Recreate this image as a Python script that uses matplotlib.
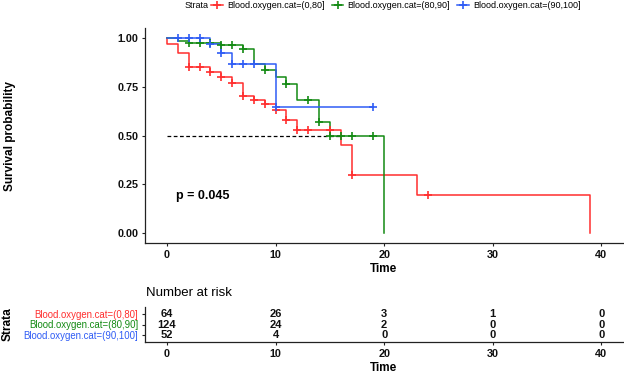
import numpy as np
import matplotlib
matplotlib.use("Agg")
import matplotlib.pyplot as plt
from matplotlib.lines import Line2D

plt.rcParams['font.family'] = ['Liberation Sans', 'DejaVu Sans']

# ---------------- data ----------------
strata = ["Blood.oxygen.cat=(0,80]", "Blood.oxygen.cat=(80,90]", "Blood.oxygen.cat=(90,100]"]
colors = ["#FF2E2E", "#138A13", "#2F5CF5"]

red_t = [0, 0.001, 1, 2, 4, 5, 6, 7, 8, 9, 10, 11, 12, 16, 17, 23, 39]
red_s = [1.0, 0.969, 0.92, 0.852, 0.826, 0.798, 0.770, 0.704, 0.684, 0.662, 0.631, 0.577, 0.526, 0.449, 0.296, 0.197, 0.0]
red_cens = [2, 3, 4, 5, 6, 7, 8, 9, 10, 11, 12, 13, 15, 17, 24]

green_t = [0, 1, 2, 5, 7, 8, 9, 10, 11, 12, 14, 15, 20]
green_s = [1.0, 0.986, 0.974, 0.964, 0.944, 0.866, 0.833, 0.800, 0.765, 0.682, 0.568, 0.495, 0.0]
green_cens = [2, 3, 4, 5, 6, 7, 9, 11, 13, 14, 15, 16, 17, 19]

blue_t = [0, 4, 5, 6, 10, 19]
blue_s = [1.0, 0.969, 0.921, 0.866, 0.645, 0.645]
blue_cens = [1, 2, 3, 4, 5, 6, 7, 8, 10, 19]

median_end = 16
p_text = "p = 0.045"

risk_times = [0, 10, 20, 30, 40]
risk_red = [64, 26, 3, 1, 0]
risk_green = [124, 24, 2, 0, 0]
risk_blue = [52, 4, 0, 0, 0]

curves = [(red_t, red_s, red_cens), (green_t, green_s, green_cens), (blue_t, blue_s, blue_cens)]
risks = [risk_red, risk_green, risk_blue]

# ---------------- figure ----------------
W, H = 624, 374
fig = plt.figure(figsize=(W / 100, H / 100), dpi=100)

def fx(px):
    return px / W

def fy(py):
    return 1 - py / H

ax_l, ax_r = 145.3, 623.0
ax = fig.add_axes([fx(ax_l), fy(243), fx(ax_r - ax_l), fy(28) - fy(243)])
axt = fig.add_axes([fx(ax_l), fy(342), fx(ax_r - ax_l), fy(307) - fy(342)])

spine_c = "#222222"
for a in (ax, axt):
    for s in ("top", "right"):
        a.spines[s].set_visible(False)
    for s in ("left", "bottom"):
        a.spines[s].set_color(spine_c)
        a.spines[s].set_linewidth(0.9)
    a.tick_params(axis="both", length=2.5, width=0.8, color=spine_c, pad=2.5)
    a.set_xlim(-2, 42)
    a.set_xticks(risk_times)
    a.set_xticklabels([str(t) for t in risk_times], fontsize=7.8, fontweight="bold", color="#111111")

# median line
ax.plot([0, median_end], [0.5, 0.5], ls=(0, (3, 2)), color="black", lw=0.9, zorder=1)

for (t, s, c), col in zip(curves, colors):
    t = np.array(t, dtype=float)
    s = np.array(s, dtype=float)
    ax.step(t, s, where="post", color=col, lw=1.1, zorder=2)
    ct = np.array(c, dtype=float)
    idx = np.searchsorted(t, ct, side="right") - 1
    ax.plot(ct, s[idx], ls="none", marker="+", ms=6, mew=1.2, color=col, zorder=3)

ax.set_ylim(-0.05, 1.05)
ax.set_yticks([0, 0.25, 0.5, 0.75, 1.0])
ax.set_yticklabels(["0.00", "0.25", "0.50", "0.75", "1.00"], fontsize=7.8, fontweight="bold", color="#111111")
ax.text(0.83, 0.19, p_text, fontsize=9, fontweight="bold", ha="left", va="center")

fig.text(fx(384), fy(269), "Time", fontsize=8.5, fontweight="bold", ha="center", va="center")
fig.text(fx(10), fy(136), "Survival probability", fontsize=8.5, fontweight="bold",
         rotation=90, ha="center", va="center")

# legend
handles = [Line2D([0], [0], color=c, lw=1.1, marker="+", ms=6, mew=1.2) for c in colors]
fig.legend(handles, strata, loc="center left", bbox_to_anchor=(fx(211), fy(6)), ncol=3,
           frameon=False, fontsize=6.5, handlelength=1.3, handletextpad=0.45,
           columnspacing=0.8, borderpad=0, borderaxespad=0)
fig.text(fx(185), fy(6), "Strata", fontsize=6.5, ha="left", va="center")

# risk table
rows_y = [3, 2, 1]
for r, y, col in zip(risks, rows_y, colors):
    for t, n in zip(risk_times, r):
        axt.text(t, y, str(n), ha="center", va="center", fontsize=8, fontweight="bold", color="#111111")
axt.set_ylim(0.4, 3.6)
axt.set_yticks(rows_y)
axt.set_yticklabels(strata, fontsize=6.9)
for lbl, col in zip(axt.get_yticklabels(), colors):
    lbl.set_color(col)

fig.text(fx(145.7), fy(293), "Number at risk", fontsize=9.5, ha="left", va="center")
fig.text(fx(384), fy(368), "Time", fontsize=8.5, fontweight="bold", ha="center", va="center")
fig.text(fx(8), fy(324), "Strata", fontsize=8.6, fontweight="bold", rotation=90, ha="center", va="center")

fig.savefig("out.png", dpi=100)
